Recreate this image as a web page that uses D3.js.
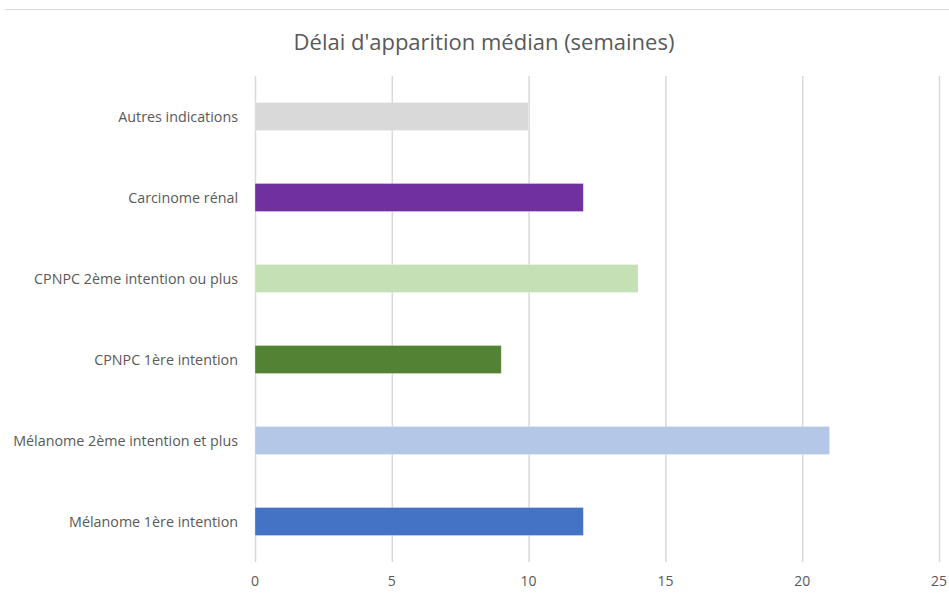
<!DOCTYPE html>
<html><head><meta charset="utf-8">
<script src="https://cdn.jsdelivr.net/npm/d3@7"></script>
<style>body{margin:0;background:#fff;} text{font-family:"Open Sans",sans-serif;}</style>
</head><body><svg id="c" width="949" height="600"></svg>
<script>
const categories = ["Autres indications","Carcinome rénal","CPNPC 2ème intention ou plus","CPNPC 1ère intention","Mélanome 2ème intention et plus","Mélanome 1ère intention"];
const values = [10,12,14,9,21,12];
const colors = ["#d9d9d9","#7030a0","#c5e0b4","#548235","#b4c7e7","#4472c4"];
const xTicks = [0,5,10,15,20,25];
const title = "Délai d'apparition médian (semaines)";

const svg = d3.select("#c");
svg.append("line").attr("x1",5).attr("x2",949).attr("y1",9.5).attr("y2",9.5).attr("stroke","#d9d9d9");
svg.append("text").attr("x",484).attr("y",50).attr("text-anchor","middle").attr("font-size",22).attr("fill","#595959").text(title);

const x = d3.scaleLinear().domain([0,25]).range([255,939]);
const y = d3.scaleBand().domain(categories).range([76,562]).paddingInner(0.654).paddingOuter(0.327);

svg.append("g").selectAll("line").data(xTicks).join("line")
  .attr("x1",d=>x(d)+0.5).attr("x2",d=>x(d)+0.5).attr("y1",76).attr("y2",562)
  .attr("stroke","#d9d9d9").attr("stroke-width",1.5);

svg.append("g").selectAll("rect").data(categories).join("rect")
  .attr("x",x(0)).attr("y",d=>y(d)).attr("width",(d,i)=>x(values[i])-x(0)).attr("height",y.bandwidth())
  .attr("fill",(d,i)=>colors[i]).attr("stroke","#fff").attr("stroke-opacity",0.4).attr("stroke-width",0.75);

svg.append("g").selectAll("text").data(categories).join("text")
  .attr("x",238).attr("y",d=>y(d)+y.bandwidth()/2).attr("dy","0.35em").attr("text-anchor","end")
  .attr("font-size",14.3).attr("fill","#595959").text(d=>d);

svg.append("g").selectAll("text").data(xTicks).join("text")
  .attr("x",d=>x(d)).attr("y",581).attr("dy","0.35em").attr("text-anchor","middle")
  .attr("font-size",14).attr("fill","#595959").text(d=>d);
</script></body></html>
